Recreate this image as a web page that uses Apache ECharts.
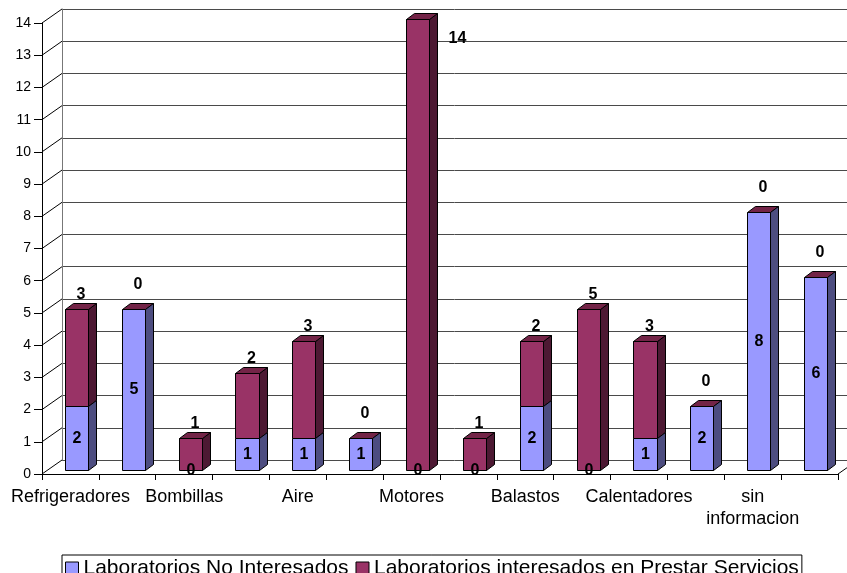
<!DOCTYPE html>
<html>
<head>
<meta charset="utf-8">
<script src="https://cdn.jsdelivr.net/npm/echarts@6/dist/echarts.min.js"></script>
<style>
  html, body { margin: 0; padding: 0; background: #fff; }
  #chart { width: 847px; height: 573px; }
</style>
</head>
<body>
<div id="chart"></div>
<script>
// Category labels along the floor (only every other slot carries a name)
const categories = ['Refrigeradores', '', 'Bombillas', '', 'Aire', '', 'Motores', '',
  'Balastos', '', 'Calentadores', '', 'sin\ninformacion', ''];
// Laboratorios No Interesados (lower segment)
const noInteresados = [2, 5, 0, 1, 1, 1, 0, 0, 2, 0, 1, 2, 8, 6];
// Laboratorios interesados en Prestar Servicios (upper segment)
const interesados = [3, 0, 1, 2, 3, 0, 14, 1, 2, 5, 3, 0, 0, 0];
// Value axis
const yMin = 0, yMax = 14, yStep = 1;
const yTicks = [0, 1, 2, 3, 4, 5, 6, 7, 8, 9, 10, 11, 12, 13, 14];

const seriesNames = ['Laboratorios No Interesados', 'Laboratorios interesados en Prestar Servicios'];

const FONT = '"Liberation Sans", Arial, sans-serif';
const BLUE = { front: '#9999FF', side: '#4D4D80' };
const RED = { front: '#993366', side: '#4D1933', top: '#732447' };

// 3D projection: floor depth, bar placement inside the depth and bar thickness
const WALL_DX = 20, WALL_DY = -14;
const BAR_DX = 6, BAR_DY = -4;
const SIDE_DX = 8, SIDE_DY = -6;

const px = v => Math.round(v) + 0.5;

function barBox(api, i, from, to) {
  const base = api.coord([i, from]);
  const top = api.coord([i, to]);
  const w = api.size([1, 0])[0] * 0.405;
  const x0 = px(base[0] - w / 2 + BAR_DX);
  const x1 = px(base[0] + w / 2 + BAR_DX);
  return { x0, x1, yb: px(base[1] + BAR_DY), yt: px(top[1] + BAR_DY) };
}

function faces(b, col) {
  const st = (fill) => ({ fill, stroke: '#000', lineWidth: 1 });
  return [
    { type: 'polygon', shape: { points: [[b.x0, b.yb], [b.x1, b.yb], [b.x1, b.yt], [b.x0, b.yt]] }, style: st(col.front) },
    { type: 'polygon', shape: { points: [[b.x1, b.yb], [b.x1 + SIDE_DX, b.yb + SIDE_DY], [b.x1 + SIDE_DX, b.yt + SIDE_DY], [b.x1, b.yt]] }, style: st(col.side) }
  ];
}

function label(text, x, y) {
  return {
    type: 'text',
    style: { text: String(text), x, y, align: 'center', verticalAlign: 'middle', font: 'bold 16px ' + FONT, fill: '#000' }
  };
}

// Lower segment
function renderLower(params, api) {
  const i = api.value(0), v = api.value(1);
  const b = barBox(api, i, 0, v);
  const children = v > 0 ? faces(b, BLUE) : [];
  children.push(label(v, (b.x0 + b.x1) / 2, (b.yb + b.yt) / 2));
  return { type: 'group', children };
}

// Upper segment, stacked on the lower one, with the top face
function renderUpper(params, api) {
  const i = api.value(0), v = api.value(1), under = api.value(2);
  const b = barBox(api, i, under, under + v);
  const children = v > 0 ? faces(b, RED) : [];
  children.push({
    type: 'polygon',
    shape: { points: [[b.x0, b.yt], [b.x1, b.yt], [b.x1 + SIDE_DX, b.yt + SIDE_DY], [b.x0 + SIDE_DX, b.yt + SIDE_DY]] },
    style: { fill: RED.top, stroke: '#000', lineWidth: 1 }
  });
  const cx = (b.x0 + b.x1) / 2 + SIDE_DX / 2;
  let ly = b.yt - (v > 0 ? 15 : 25);
  if (ly < params.coordSys.y + 5) {
    // no room above the plot: put the value beside the bar top
    children.push(label(v, b.x1 + SIDE_DX + 20, b.yt + 19));
  } else {
    children.push(label(v, cx, ly));
  }
  return { type: 'group', children };
}

// Side wall slants joining the front axis ticks to the back wall, plus floor edges
function renderWall(params, api) {
  const v = api.value(0);
  const cs = params.coordSys;
  const y = api.coord([0, v])[1];
  const x = cs.x;
  const children = [{
    type: 'line',
    shape: { x1: x, y1: y, x2: x + WALL_DX, y2: y + WALL_DY },
    style: { stroke: '#000', lineWidth: 1 }
  }];
  if (v === yMin) {
    children.push({
      type: 'line',
      shape: { x1: x + cs.width, y1: y, x2: x + cs.width + WALL_DX, y2: y + WALL_DY },
      style: { stroke: '#000', lineWidth: 1 }
    });
  }
  return { type: 'group', children };
}

const chart = echarts.init(document.getElementById('chart'), null, { renderer: 'canvas' });

chart.setOption({
  backgroundColor: '#fff',
  animation: false,
  textStyle: { fontFamily: FONT, color: '#000' },
  grid: [
    { left: 42, right: 9, top: 23, bottom: 99 },   // front plane
    { left: 62, right: 0, top: 9, bottom: 113 }    // back wall
  ],
  xAxis: [
    {
      type: 'category', gridIndex: 0, data: categories, boundaryGap: true,
      axisLine: { show: true, lineStyle: { color: '#000', width: 1 } },
      axisTick: { show: true, interval: 0, length: 6, lineStyle: { color: '#000' } },
      axisLabel: { interval: 0, fontSize: 18, color: '#000', fontFamily: FONT, margin: 12, lineHeight: 22 },
      splitLine: { show: false }
    },
    {
      type: 'category', gridIndex: 1, data: categories, show: false
    }
  ],
  yAxis: [
    {
      type: 'value', gridIndex: 0, min: yMin, max: yMax, interval: yStep,
      axisLine: { show: true, lineStyle: { color: '#000', width: 1 } },
      axisTick: { show: true, length: 8, lineStyle: { color: '#000' } },
      axisLabel: { fontSize: 14, color: '#000', fontFamily: FONT, margin: 11 },
      splitLine: { show: false }
    },
    {
      type: 'value', gridIndex: 1, min: yMin, max: yMax, interval: yStep,
      axisLine: { show: true, lineStyle: { color: '#777', width: 1 } },
      axisTick: { show: false },
      axisLabel: { show: false },
      splitLine: { show: true, lineStyle: { color: '#4a4a4a', width: 1 } }
    }
  ],
  legend: {
    left: 62, top: 555,
    orient: 'horizontal',
    icon: 'rect',
    itemWidth: 13, itemHeight: 13, itemGap: 7,
    padding: [3, 3, 3, 3],
    borderColor: '#000', borderWidth: 1,
    textStyle: { fontSize: 21, color: '#000', fontFamily: FONT },
    data: [
      { name: seriesNames[0], itemStyle: { color: BLUE.front, borderColor: '#000', borderWidth: 1 } },
      { name: seriesNames[1], itemStyle: { color: RED.front, borderColor: '#000', borderWidth: 1 } }
    ]
  },
  series: [
    {
      type: 'custom', name: 'wall', xAxisIndex: 0, yAxisIndex: 0, z: 1,
      data: yTicks.map(t => [t]),
      encode: { y: 0 },
      renderItem: renderWall, silent: true
    },
    {
      type: 'custom', name: seriesNames[0], xAxisIndex: 0, yAxisIndex: 0, z: 4,
      itemStyle: { color: BLUE.front },
      data: noInteresados.map((v, i) => [i, v]),
      encode: { x: 0, y: 1 },
      renderItem: renderLower
    },
    {
      type: 'custom', name: seriesNames[1], xAxisIndex: 0, yAxisIndex: 0, z: 3,
      itemStyle: { color: RED.front },
      data: interesados.map((v, i) => [i, v, noInteresados[i]]),
      encode: { x: 0, y: 1 },
      renderItem: renderUpper
    }
  ]
});
</script>
</body>
</html>
